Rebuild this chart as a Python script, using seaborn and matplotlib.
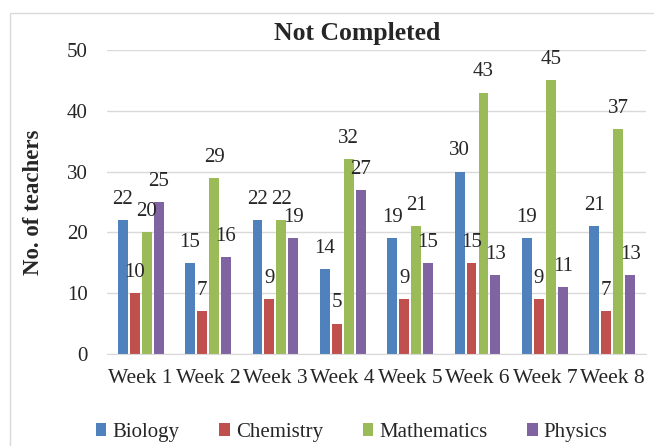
import pandas as pd
import matplotlib
matplotlib.use("Agg")
import matplotlib.pyplot as plt
import seaborn as sns
from matplotlib.patches import Rectangle

weeks = ["Week 1", "Week 2", "Week 3", "Week 4", "Week 5", "Week 6", "Week 7", "Week 8"]
subjects = ["Biology", "Chemistry", "Mathematics", "Physics"]
biology = [22, 15, 22, 14, 19, 30, 19, 21]
chemistry = [10, 7, 9, 5, 9, 15, 9, 7]
mathematics = [20, 29, 22, 32, 21, 43, 45, 37]
physics = [25, 16, 19, 27, 15, 13, 11, 13]
colors = ["#4F81BD", "#C0504D", "#9BBB59", "#8064A2"]

df = pd.DataFrame({"Week": weeks * 4,
                   "Subject": sum([[s] * len(weeks) for s in subjects], []),
                   "Count": biology + chemistry + mathematics + physics})

sns.set_style("white")
plt.rcParams["font.family"] = ["Liberation Serif", "DejaVu Serif"]

fig = plt.figure(figsize=(6.54, 4.46), dpi=100)
ax = fig.add_axes([0.1636, 0.2063, 0.824, 0.6816])
# light chart-area border
fig.patches.append(Rectangle((10 / 654, -0.01), 1, 1 - 13 / 446 + 0.01, transform=fig.transFigure,
                             fill=False, edgecolor="#D9D9D9", linewidth=1))

sns.barplot(data=df, x="Week", y="Count", hue="Subject", palette=colors,
            saturation=1, width=0.71, gap=0.17, linewidth=0, ax=ax, legend=True)

for cont in ax.containers:
    ax.bar_label(cont, padding=8, fontsize=15)

ax.set_ylim(0, 50)
ax.set_yticks(range(0, 51, 10))
ax.yaxis.grid(True, color="#D9D9D9", linewidth=1)
ax.set_axisbelow(True)
for s in ["top", "right", "left"]:
    ax.spines[s].set_visible(False)
ax.spines["bottom"].set_color("#D9D9D9")
ax.tick_params(axis="both", length=0)
ax.tick_params(axis="y", pad=14, labelsize=15)
ax.tick_params(axis="x", pad=11, labelsize=15.5)
ax.set_xlabel("")
ax.set_ylabel("No. of teachers", fontsize=16.5, fontweight="bold", labelpad=16)
ax.set_title("Not Completed", fontsize=18.5, fontweight="bold", x=0.465, pad=7)

handles, labels = ax.get_legend_handles_labels()
ax.get_legend().remove()
fig.legend(handles, labels, loc="center", bbox_to_anchor=(0.538, 0.03), ncol=4,
           frameon=False, fontsize=15, handlelength=0.5, handleheight=0.6,
           handletextpad=0.3, columnspacing=1.9)

fig.savefig("out.png", dpi=100)
